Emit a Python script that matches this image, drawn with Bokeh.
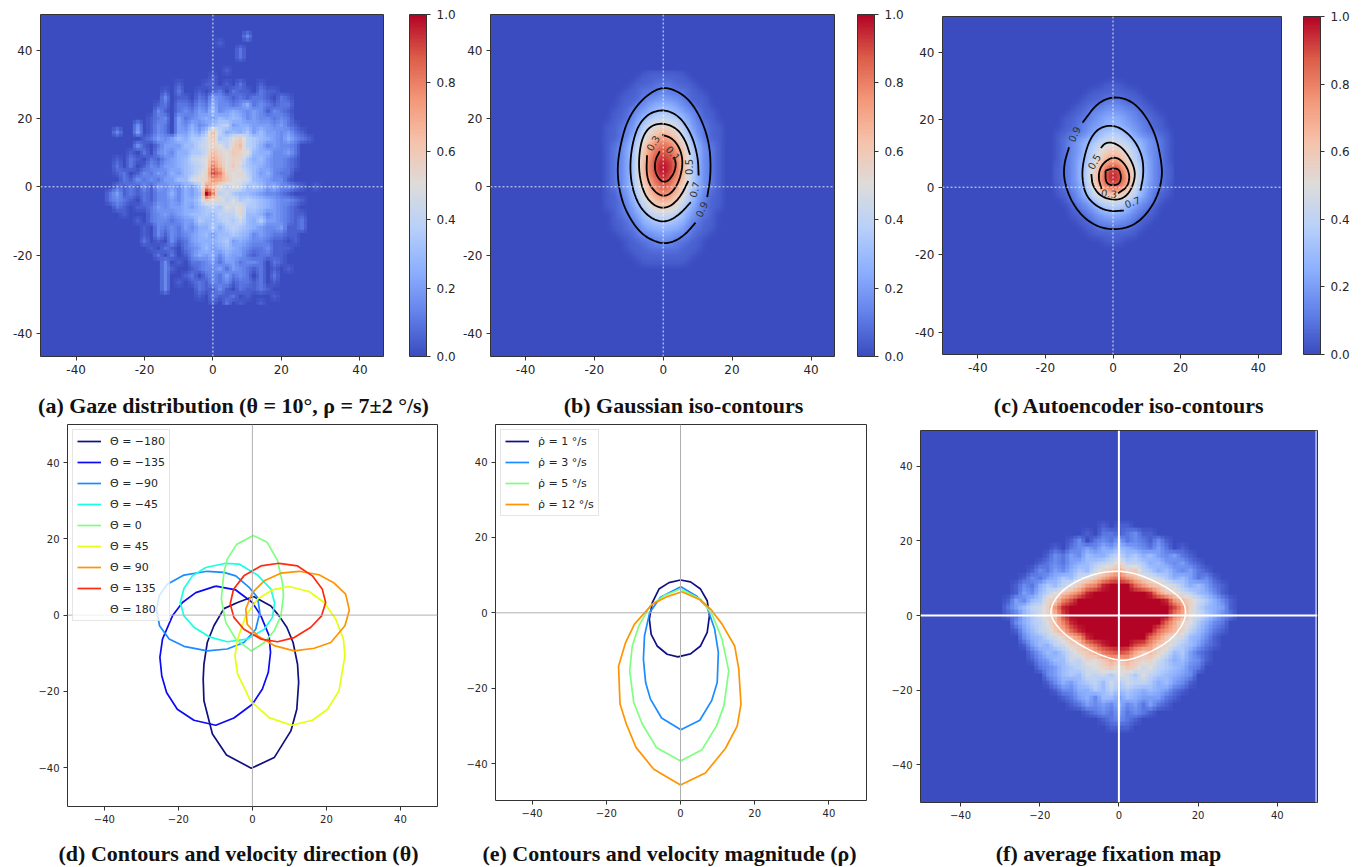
import numpy as np
from bokeh.core.properties import value
from bokeh.embed import file_html
from bokeh.layouts import column, row
from bokeh.models import (ColorBar, FixedTicker, Legend, LegendItem, LinearColorMapper,
                          PrintfTickFormatter, Range1d, Span)
from bokeh.plotting import figure
from bokeh.resources import INLINE

# ---- heat maps: one character per 2-degree cell, 0..9a..k = 0.00..1.00 in 0.05 steps
GAZE_X0, GAZE_Y_TOP = -32, 46
GAZE = [
 "0", "0000000000000000000003", "000000000000000001", "000000000000000000002",
 "000000000000000000002", "0", "0000000000000000001", "00000000000000001",
 "000000000001000110102001000000000",
 "000000000102001012021102110000000",
 "000000000301102143212122102100000",
 "000000001202213253323523212200000",
 "000000003102324363454343132100000",
 "000000012304234546565343323200000",
 "000003013204353467845544434210000",
 "0030040132044647d8565746443421000",
 "0000001243465779c78ac876543532100",
 "0000031024446689ba8bd875343320000",
 "0000102034355779dbacba65533420000",
 "001021021345689aecabb756433210000",
 "002020132445678agdac9765433210000",
 "001201324354679bigbab864532200000",
 "00021323244669abfecaa965433100000",
 "002121314343547fda8a9676453321010",
 "024121213353546kg8976654332100000",
 "023210213343557cab8a7876543321000",
 "002101124344546787a9b776543210000",
 "00010002343456676888b665343211000",
 "000001023323447667879657443212000",
 "000000103232435575787654334112000",
 "000000103132345646676534322110000",
 "000000201031245556745433211010000",
 "000000010210234645654322311100000",
 "000000002020135453544212211000000",
 "000000000301022342442332021000000",
 "000000000310012334243212010100000",
 "000000000300120232423202020000000",
 "000000000301012132312212010000000",
 "000000000300002113102112100000000",
 "000000000000001021120100010000000",
 "000000000000000010201001000000000",
]
GAUSS_X0, GAUSS_Y_TOP = -18, 34
GAUSS = [
 "0000000111110000000", "0000001111111000000", "0000011122211100000", "0000112223222110000",
 "0001112334332111000", "0001123455543211000", "0011234567654321100", "0011245788875421100",
 "01123479aba97432110", "0112358acdca8532110", "0112469cefec9642110", "012357beghgeb753210",
 "012358cfhihfc853210", "012358cgijigc853210", "012358dgjkjgd853210", "012358dgikigd853210",
 "012358cfhjhfc853210", "012357begigeb753210", "011347adfgfda743110", "0112469bdedb9642110",
 "0112357abcba7532110", "0012346899986432100", "0011235677765321100", "0011224556554221100",
 "0001123344433211000", "0000112233322110000", "0000111222221110000",
 "0000011111111100000", "0000001111111000000", "0000000000000000000",
]
AUTO_X0, AUTO_Y_TOP = -18, 34
AUTO = [
 "0000000000000000000", "0000000000000000000", "0000000011100000000", "0000001111111000000",
 "0000011122211100000", "0000112233322110000", "0001123344433211000", "0011223455543221100",
 "0011234456544321100", "0112234677764322110", "0123456789876543210", "01234679aba97643210",
 "0123468acdca8643210", "0123568beeeb8653210", "112357adgigda753211", "112357beikieb753211",
 "112358bfijifb853211", "0123469egige9643210", "0112469bcecb9642110", "001234689a986432100",
 "0001234677764321000", "0001123455543211000", "0000112334332110000", "0000011222221100000",
 "0000001111111000000", "0000000011100000000", "0000000000000000000", "0000000000000000000",
]
FIX_X0, FIX_Y_TOP = -30, 26
FIX = [
 "0", "0000000000000101100000000000000",
 "00000000000" + "102212311" + "00000000000",
 "000000000" + "1302324232131" + "000000000",
 "0000000" + "10234354654324201" + "0000000",
 "000000" + "1324365578675643421" + "000000",
 "00000" + "123245678" + "9b8" + "875643421" + "00000",
 "0000" + "13243576" + "9bcebc8" + "75643421" + "0000",
 "000" + "1324576" + "9aceghfdba9" + "7564231" + "000",
 "00" + "1325768" + "acfgj" + "kkk" + "hfdca" + "9756421" + "00",
 "00" + "14368" + "acegj" + "kkkkkkk" + "jfcb9" + "86531" + "00",
 "0" + "14367bcgi" + "kkkkkkkkkkk" + "jfdb97531" + "0",
 "0" + "24689bfj" + "kkkkkkkkkkkkk" + "ifb86541" + "0",
 "0" + "12579bdi" + "kkkkkkkkkkkkk" + "gea97532" + "0",
 "00" + "3578adgj" + "kkkkkkkkkkk" + "heba7532" + "00",
 "00" + "14689cehj" + "kkkkkkkkk" + "hfdb86421" + "00",
 "000" + "35689bdfj" + "kkkkkkk" + "hfca96531" + "000",
 "000" + "146589bcfhj" + "kkk" + "ihfcb976421" + "000",
 "0000" + "246579bcegh" + "i" + "hecdb967421" + "0000",
 "0000" + "1346698bace" + "d" + "ecbb9756431" + "0000",
 "00000" + "2346789abc" + "a" + "cb9a876532" + "00000",
 "000000" + "346769897" + "a" + "97a876543" + "000000",
 "000000" + "135467869" + "7" + "988756431" + "000000",
 "0000000" + "13355768" + "6" + "76565421" + "0000000",
 "00000000" + "1245366" + "4" + "6544421" + "00000000",
 "000000000" + "124343" + "5" + "342421" + "000000000",
 "00000000000" + "1232" + "4" + "2321" + "00000000000",
 "0000000000000" + "12321" + "0000000000000",
 "00000000000000" + "111" + "00000000000000",
 "0",
]

# ---- contour polylines (x, y in degrees)
GAUSS_LINES = [
 [(12.8,-3),(13.9,3.8),(13.5,12.6),(10.9,20.4),(7,26.2),(2.1,28.9),(-1.7,28.8),(-6.6,25.2),(-10.5,19.4),(-12.6,11.6),(-13.4,4.8),(-12.6,-2),(-10.5,-7.9),(-6.6,-13.7),(-1.7,-16.4),(2.1,-16.5),(6,-14.4),(9.4,-10.5)],
 [(10.3,3.3),(10.1,8.7),(8.4,15),(5,20.4),(0.7,22.6),(-3.7,21.8),(-7.1,18.4),(-9,12.6),(-9.7,5.8),(-9,-0.6),(-6.6,-6.4),(-2.7,-9.8),(1.2,-10.3),(5,-7.9),(8,-4.5)],
 [(7.8,9.4),(6.5,13.5),(4.1,17),(0.2,18.7),(-3.7,17.9),(-6.1,14.5),(-7.1,8.7),(-6.9,2.8),(-5.2,-3),(-1.8,-6.1),(1.7,-6.1),(5,-3),(7.3,1.7)],
 [(-4.7,9.2),(-4.9,3.8),(-3.7,-0.1),(-0.8,-2.8),(2.1,-2.3),(4.6,1.4),(5.8,6.7),(5,11.1),(2.6,14.3),(-0.3,15.2)],
 [(-1,10.4),(-2.4,7.7),(-2.4,4.3),(-0.8,1.6),(1.2,1.4),(3.1,3.8),(3.8,6.7),(3.1,8.7)],
]
GAUSS_TAGS = [("0.9",11.1,-6.6,65),("0.7",9.1,-0.8,75),("0.5",7.6,5.8,90),("0.3",-3,12.8,60),("0.1",2.9,9.8,-50)]
AUTO_LINES = [
 [(-9,19.1),(-4.6,25),(0.3,26.9),(5.2,25.7),(9.1,22),(12.6,15.7),(14.3,7.8),(14.6,2.9),(13.1,-2.9),(10.1,-7.8),(6.2,-11.3),(1.3,-12.6),(-4.1,-12),(-9,-8.8),(-12.5,-3.9),(-14.5,2),(-14.5,6.9),(-13,11.8)],
 [(8.1,-1),(9.1,3.9),(8.7,9.3),(6.2,14.2),(2.3,17.6),(-1.2,18.4),(-4.6,17.2),(-7.1,13.7),(-8.8,7.8),(-9.2,2.9),(-8.1,-2.5),(-4.6,-5.9),(-0.7,-7.2),(3.2,-6.9)],
 [(-6.4,3.9),(-6.1,0.5),(-3.6,-2.9),(1.3,-4),(4.7,-2.2),(6.7,2.9),(6,6.9),(3.2,11.3),(0.3,13.2),(-2.2,13.2),(-3.6,11.6)],
 [(-3.4,-0.5),(-4.4,2.9),(-3.6,6.4),(-0.7,8.8),(1.8,8.6),(4.2,5.9),(5,2.9),(4.2,0),(1.5,-1.8)],
 [(-2.2,4.9),(-0.2,5.6),(1.8,5.4),(2.5,2.9),(1.8,0.8),(-0.7,0.5),(-2.2,1.5),(-2.2,4.9)],
]
AUTO_TAGS = [("0.9",-11.5,15.7,65),("0.5",-5.6,7.6,60),("0.3",-1.2,-1.8,-5),("0.7",5.7,-4.4,20)]

THETA_LABELS = ["Θ̇ = −180","Θ̇ = −135","Θ̇ = −90","Θ̇ = −45","Θ̇ = 0","Θ̇ = 45","Θ̇ = 90","Θ̇ = 135","Θ̇ = 180"]
THETA_COLORS = ["#101080","#0a0af5","#1a8cff","#1affdf","#7fff7f","#e4ff12","#ff9400","#ff2a10","#f4f4f4"]
THETA_M180 = [(0.3,4.9),(5,2.4),(7.2,-0.2),(9.3,-3.2),(11,-7.2),(12.2,-12.9),(12.5,-17.7),(12,-24.7),(10.4,-30.4),(5.9,-37.4),(-0.3,-40.2),(-7,-36.7),(-10.8,-31.2),(-13.1,-22.5),(-13.3,-16.8),(-13.1,-12.9),(-12.2,-7.2),(-10.4,-2.8),(-7.7,1.7),(-4,3.3)]
THETA_M135 = [(-9.9,7.6),(-15.3,5.9),(-18.9,3.3),(-21.6,-0.2),(-24.3,-6.3),(-25,-11.1),(-24.5,-15.9),(-23.2,-20.3),(-20.3,-24.7),(-15.8,-27.6),(-9.9,-28.9),(-5,-27),(0,-23.4),(2.7,-19.4),(4.3,-15),(4.9,-9.8),(4.5,-5.4),(2.3,-0.2),(0,3.3),(-4.5,6.6)]
THETA_M90 = [(-12.2,11.5),(-18.5,10.5),(-23,8.1),(-25.2,5.1),(-25.9,1.4),(-25.1,-2.8),(-22.5,-6.3),(-18.5,-8.2),(-12.2,-9.4),(-6.8,-8.9),(-2.3,-7.2),(0.9,-3.7),(2,0.7),(1.4,4.6),(-0.9,7.3),(-4.5,10.3),(-7.7,11.2)]
THETA_M45 = [(-7.2,13.6),(-12.6,12.5),(-16.2,10.3),(-18.5,7),(-19.5,3.3),(-18.5,-0.2),(-15.8,-3.2),(-11.7,-5.7),(-6.8,-7),(-1.4,-6.3),(3.2,-3.7),(5.4,-0.6),(6,3.3),(5,6.8),(1.4,10.5),(-3.6,13.4)]
THETA_0 = [(0.2,20.9),(4,19.1),(6.8,14.3),(8.1,8.6),(8.4,5.1),(7.7,-0.2),(5.9,-4.1),(3.2,-7.2),(-0.3,-9.4),(-4.5,-6.3),(-7.2,-1.9),(-8.4,4.2),(-7.7,11.2),(-6.8,14.7),(-4.3,18.5)]
THETA_45 = [(9.9,7.5),(5.4,6.6),(1.4,4.2),(-1.8,-0.2),(-4,-6.3),(-4.7,-10.7),(-4,-15.5),(-0.5,-22.5),(4.5,-26.9),(10.6,-28.9),(16.2,-27.6),(20.3,-24.7),(23.4,-19.9),(25,-10.7),(24.6,-6.3),(22.5,-1),(19.4,3.3),(15.3,6.2)]
THETA_90 = [(12.6,11.5),(7.7,11),(3.2,9),(0,5.9),(-1.8,1.6),(-1.4,-2.4),(1.4,-5.4),(5.9,-8),(11.3,-9.4),(16.7,-8.7),(21.2,-7.2),(25,-2.8),(26.2,1.3),(25.2,5.5),(22.1,8.4),(18,10.6)]
THETA_135 = [(7.2,13.6),(2.3,12.9),(-2.3,10.3),(-5.1,6.8),(-6,2.9),(-5,-0.6),(-2.3,-3.7),(2.3,-6.3),(6.8,-7),(11.3,-5.9),(15.8,-3.2),(18.7,-0.2),(19.8,3.3),(18.9,6.8),(16.2,10.3),(12.2,12.9)]
THETA_180 = []  # no visible curve in the picture, only its legend entry

RHO_LABELS = ["ρ̇ = 1 °/s","ρ̇ = 3 °/s","ρ̇ = 5 °/s","ρ̇ = 12 °/s"]
RHO_COLORS = ["#101080","#1a8cff","#7fff7f","#ff9400"]
RHO_1 = [(0,8.7),(2.7,8.2),(5.4,6.3),(7.2,3.2),(7.8,-0.8),(7.2,-5.2),(5.4,-8.8),(2.7,-10.9),(-0.7,-11.7),(-3.6,-11),(-6.3,-8.8),(-7.9,-5.7),(-8.4,-1.7),(-7.6,2.7),(-5.8,6.3),(-3.1,8)]
RHO_3 = [(0.1,6.9),(4.5,4.3),(7.2,1.4),(9.2,-4.3),(10.2,-10.5),(9.9,-18.5),(8.4,-23.3),(5.2,-28.5),(0.1,-31),(-5.1,-27.9),(-8.1,-22.9),(-9.4,-18.5),(-10,-12.3),(-9.7,-6.1),(-8.3,0.1),(-5.4,4.1)]
RHO_5 = [(0,6.3),(5.4,3.6),(8.5,-0.4),(11.2,-7),(13,-15.4),(11.7,-24.7),(9.7,-30),(5.8,-36.3),(0,-39.3),(-6.5,-35.7),(-10.3,-29.5),(-12.6,-23.8),(-13.7,-15.4),(-13,-8.8),(-11.2,-3.4),(-8.1,1.9),(-4.5,4.5)]
RHO_12 = [(0.4,5.6),(5.4,3.4),(8.1,1),(11.2,-3),(14.6,-8.8),(15.7,-14.9),(16.3,-24.2),(15.3,-30),(12.1,-36),(6.7,-42.5),(0,-45.7),(-7.2,-41.5),(-12,-35.7),(-14.6,-29.5),(-16.3,-24.2),(-16.7,-14.2),(-14.8,-7.9),(-12.4,-3),(-7.6,2.3),(-3.6,4.3)]
FIX_RING = [(0,11.9),(4.6,11.2),(9.7,8.9),(13.9,6.3),(16.4,3.6),(17,0.4),(16,-2.7),(13,-6.7),(8,-9.8),(2.9,-11.9),(0,-12.1),(-4.6,-10.7),(-9.7,-8),(-13.9,-4.9),(-16.4,-1.8),(-17.4,0.9),(-16.4,4),(-13.9,7.1),(-9.7,9.8),(-4.6,11.6)]

CAPTIONS = ["(a) Gaze distribution (θ = 10°, ρ = 7±2 °/s)", "(b) Gaussian iso-contours", "(c) Autoencoder iso-contours",
            "(d) Contours and velocity direction (θ)", "(e) Contours and velocity magnitude (ρ)", "(f) average fixation map"]
COLORBAR_TICKS = [0, 0.2, 0.4, 0.6, 0.8, 1.0]
TOP_X_TICKS = [-40, -20, 0, 20, 43]
TOP_Y_TICKS = [-43, -20, 0, 20, 40]
LOW_TICKS = [-40, -20, 0, 20, 40]

# coolwarm colour map
anchors = ["#3b4cc0","#6282ea","#8db0fe","#b8d0f9","#dddcdc","#f5c4ac","#f4987a","#dc5d4a","#b40426"]
rgb = np.array([[int(c[i:i+2], 16) for i in (1, 3, 5)] for c in anchors], float)
pos = np.linspace(0, 1, len(anchors))
t = np.linspace(0, 1, 256)
COOLWARM = ["#%02x%02x%02x" % tuple(int(round(np.interp(v, pos, rgb[:, k]))) for k in range(3)) for v in t]
mapper = LinearColorMapper(palette=COOLWARM, low=0, high=1)
CHARS = "0123456789abcdefghijk"
TXT = "#262626"
FRAME = "#333333"


def parse(rows, n):
    return np.array([[CHARS.index(c) / 20 for c in r.ljust(n, "0")[:n]] for r in rows])


def resample(a, k, blur=0):
    # display smoothing of the read cells, like imshow's interpolation
    ny, nx = a.shape
    xi = np.arange(0, nx - 1 + 1e-9, 1 / k)
    yi = np.arange(0, ny - 1 + 1e-9, 1 / k)
    b = np.array([np.interp(xi, np.arange(nx), r) for r in a])
    c = np.array([np.interp(yi, np.arange(ny), col) for col in b.T]).T
    if blur:
        ker = np.ones(blur) / blur
        for _ in range(2):
            c = np.array([np.convolve(r, ker, mode="same") for r in c])
            c = np.array([np.convolve(col, ker, mode="same") for col in c.T]).T
    return c


def panel(tile_x, tile_y, tile_w, tile_h, l, r, t_, b, x0_px, y0_px, sx, sy, xticks, yticks, size, hyphen):
    p = figure(width=tile_w, height=tile_h, output_backend="svg", toolbar_location=None,
               x_range=Range1d((l - x0_px) / sx, (r - x0_px) / sx),
               y_range=Range1d((y0_px - b) / sy, (y0_px - t_) / sy),
               min_border_left=l - tile_x, min_border_right=tile_x + tile_w - r,
               min_border_top=t_ - tile_y, min_border_bottom=tile_y + tile_h - b)
    p.grid.visible = False
    p.outline_line_color = FRAME
    p.outline_line_width = 1
    dash = "-" if hyphen else "\u2212"
    for ax, ticks in ((p.xaxis[0], xticks), (p.yaxis[0], yticks)):
        ax.ticker = FixedTicker(ticks=ticks)
        ax.major_label_overrides = {v: (dash + str(40 if abs(v) == 43 else abs(v)) if v < 0 else str(40 if v == 43 else v)) for v in ticks}
        ax.major_label_text_font = "DejaVu Sans"
        ax.major_label_text_font_size = size
        ax.major_label_text_color = TXT
        ax.axis_line_color = None
        ax.major_tick_line_color = FRAME
        ax.major_tick_out = 4
        ax.major_tick_in = 0
        ax.minor_tick_line_color = None
        ax.major_label_standoff = 4
    p.yaxis[0].major_label_orientation = "horizontal"
    return p


def heat(p, rows, n, x_left, y_top, k, blur=0):
    a = resample(parse(rows, n), k, blur)[::-1]
    st = 2 / k
    ny, nx = a.shape
    p.image(image=[a], x=x_left - st / 2, y=y_top - (ny - 1) * st - st / 2, dw=nx * st, dh=ny * st, color_mapper=mapper)


def colorbar(p, gap):
    cb = ColorBar(color_mapper=mapper, width=17, padding=0, ticker=FixedTicker(ticks=COLORBAR_TICKS),
                  formatter=PrintfTickFormatter(format="%.1f"), major_label_text_font="DejaVu Sans",
                  major_label_text_font_size="12px", major_label_text_color=TXT, major_tick_line_color=FRAME,
                  major_tick_in=0, major_tick_out=4, bar_line_color=FRAME, label_standoff=6, minor_tick_line_color=None,
                  location=(gap, 0))
    p.add_layout(cb, "right")


def cross(p, width=1, dash="2 2", alpha=0.85):
    for d in ("width", "height"):
        p.add_layout(Span(location=0, dimension=d, line_color="white", line_width=width, line_dash=dash, line_alpha=alpha))


def xs(pts):
    return [q[0] for q in pts]


def ys(pts):
    return [q[1] for q in pts]


def closed(pts):
    return pts + pts[:1] if pts else pts


def rounded(pts, passes=3):
    # rounds the corners of a read polyline when it is drawn (Bokeh has no spline glyph)
    a = np.array(pts, float)
    for _ in range(passes):
        q = 0.75 * a[:-1] + 0.25 * a[1:]
        r = 0.25 * a[:-1] + 0.75 * a[1:]
        m = np.empty((2 * len(q), 2))
        m[0::2], m[1::2] = q, r
        a = np.vstack([a[:1], m, a[-1:]])
    return a


def contours(p, lines, tags):
    for seg in lines:
        a = rounded(seg)
        p.line(a[:, 0], a[:, 1], line_color="black", line_width=1.8)
    for s, x, y, ang in tags:
        p.text([x], [y], text=[s], angle=ang, angle_units="deg", text_font=value("DejaVu Sans"), text_font_size="10px",
               text_align="center", text_baseline="middle", text_color="#333333")


def legend(p, renderers, labels):
    items = [LegendItem(label=value(s), renderers=[r]) for s, r in zip(labels, renderers)]
    lg = Legend(items=items, location="top_left", margin=5, padding=4, spacing=7, glyph_width=24, glyph_height=14,
                label_height=14, label_standoff=9, label_text_font="DejaVu Sans", label_text_font_size="11px",
                label_text_color=TXT, border_line_color="#cccccc", background_fill_alpha=0.8, background_fill_color="white")
    p.add_layout(lg)


def strip(y0, y1, idx, centres, cy):
    p = figure(width=1345, height=y1 - y0, output_backend="svg", toolbar_location=None, x_range=Range1d(8, 1353),
               y_range=Range1d(y1, y0), x_axis_location=None, y_axis_location=None, min_border=0)
    p.grid.visible = False
    p.outline_line_color = None
    p.text(centres, [cy] * len(centres), text=[CAPTIONS[i] for i in idx], text_font=value("Liberation Serif"),
           text_font_style="bold", text_font_size="22px", text_align="center", text_baseline="middle", text_color="#111111")
    return p


R1, R2 = 383, 418
pa = panel(8, 8, 450, R1, 40, 383, 14, 356, 212.4, 186.3, 3.42, 3.42, TOP_X_TICKS, TOP_Y_TICKS, "12px", True)
pa.background_fill_color = "#3b4cc0"
heat(pa, GAZE, 33, GAZE_X0, GAZE_Y_TOP, 2)
cross(pa)
colorbar(pa, 26)

pb = panel(458, 8, 448, R1, 490, 834, 14, 356, 662.7, 186.3, 3.44, 3.42, TOP_X_TICKS, TOP_Y_TICKS, "12px", True)
pb.background_fill_color = "#3b4cc0"
heat(pb, GAUSS, 19, GAUSS_X0, GAUSS_Y_TOP, 8, blur=9)
cross(pb)
contours(pb, GAUSS_LINES, GAUSS_TAGS)
colorbar(pb, 23)

pc = panel(906, 8, 449, R1, 942, 1281, 16, 354, 1112.5, 186.7, 3.38, 3.38, TOP_X_TICKS, TOP_Y_TICKS, "12px", True)
pc.background_fill_color = "#3b4cc0"
heat(pc, AUTO, 19, AUTO_X0, AUTO_Y_TOP, 8, blur=9)
cross(pc)
contours(pc, AUTO_LINES, AUTO_TAGS)
colorbar(pc, 22)

pd = panel(8, 420, 452, R2, 67, 437, 424, 806, 251.9, 614.6, 3.7, 3.81, LOW_TICKS, LOW_TICKS, "10px", False)
for d in ("width", "height"):
    pd.add_layout(Span(location=0, dimension=d, line_color="#b0b0b0", line_width=1))
THETA = [THETA_M180, THETA_M135, THETA_M90, THETA_M45, THETA_0, THETA_45, THETA_90, THETA_135, THETA_180]
rs = []
for pts, col in zip(THETA, THETA_COLORS):
    c = closed(pts)
    rs.append(pd.line(xs(c), ys(c), line_color=col, line_width=1.7))
legend(pd, rs, THETA_LABELS)

pe = panel(460, 420, 426, R2, 495, 866, 424, 800, 680, 612.3, 3.71, 3.77, LOW_TICKS, LOW_TICKS, "10px", False)
for d in ("width", "height"):
    pe.add_layout(Span(location=0, dimension=d, line_color="#b0b0b0", line_width=1))
rs = []
for pts, col in zip([RHO_1, RHO_3, RHO_5, RHO_12], RHO_COLORS):
    c = closed(pts)
    rs.append(pe.line(xs(c), ys(c), line_color=col, line_width=1.7))
legend(pe, rs, RHO_LABELS)

pf = panel(886, 420, 459, R2, 920, 1317, 430, 802, 1118.4, 615, 3.96, 3.73, LOW_TICKS, LOW_TICKS, "10px", False)
pf.background_fill_color = "#3b4cc0"
heat(pf, FIX, 31, FIX_X0, FIX_Y_TOP, 2)
a = rounded(closed(FIX_RING), 2)
pf.line(a[:, 0], a[:, 1], line_color="white", line_width=1.5)
cross(pf, width=2, dash="solid", alpha=1)
pf.add_layout(Span(location=49.8, dimension="height", line_color="white", line_width=1.5, line_alpha=0.7))

cap1 = strip(391, 420, [0, 1, 2], [233, 683, 1129], 405)
cap2 = strip(838, 867, [3, 4, 5], [238, 669, 1108], 853)
page = column(row(column(pa), column(pb), column(pc), spacing=0), cap1,
              row(column(pd), column(pe), column(pf), spacing=0), cap2, spacing=0, margin=(8, 0, 0, 8))
open("out.html", "w").write(file_html(page, INLINE))
